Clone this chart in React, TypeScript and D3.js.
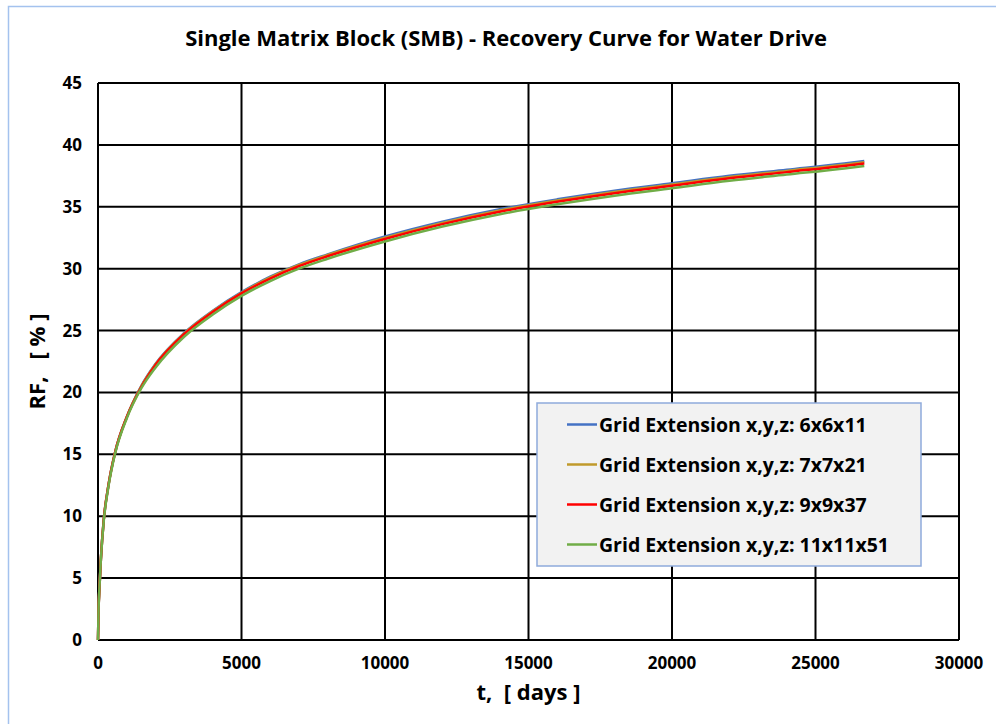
import React from "react";
import * as d3 from "d3";

const tDays = [0, 20, 50, 100, 200, 350, 600, 1000, 1500, 2000, 3000, 4000, 5000, 6000, 7000, 8000, 10000, 12000, 14000, 16000, 18000, 20000, 22000, 24000, 26000, 26700];
const rf6x6x11 = [0, 2.5, 4.2, 6.5, 9.7, 12.3, 15.2, 18.0, 20.5, 22.3, 24.8, 26.6, 28.1, 29.35, 30.35, 31.15, 32.6, 33.8, 34.8, 35.6, 36.3, 36.9, 37.5, 38.0, 38.5, 38.7];
const rf7x7x21 = [0, 2.5, 4.2, 6.5, 9.7, 12.3, 15.2, 18.0, 20.45, 22.25, 24.75, 26.55, 28.05, 29.3, 30.3, 31.1, 32.5, 33.7, 34.7, 35.5, 36.2, 36.8, 37.4, 37.9, 38.4, 38.6];
const rf9x9x37 = [0, 2.5, 4.2, 6.5, 9.7, 12.3, 15.2, 18.0, 20.4, 22.2, 24.7, 26.5, 28.0, 29.2, 30.2, 31.0, 32.4, 33.6, 34.6, 35.4, 36.1, 36.7, 37.3, 37.8, 38.3, 38.5];
const rf11x11x51 = [0, 2.5, 4.2, 6.5, 9.6, 12.2, 15.1, 17.9, 20.3, 22.0, 24.5, 26.3, 27.8, 29.0, 30.0, 30.8, 32.2, 33.4, 34.4, 35.2, 35.9, 36.5, 37.1, 37.6, 38.1, 38.3];

const seriesNames = [
  "Grid Extension x,y,z: 6x6x11",
  "Grid Extension x,y,z: 7x7x21",
  "Grid Extension x,y,z: 9x9x37",
  "Grid Extension x,y,z: 11x11x51",
];
const seriesValues = [rf6x6x11, rf7x7x21, rf9x9x37, rf11x11x51];
const seriesColors = ["#4472C4", "#C09A2B", "#FF0000", "#70AD47"];

const xTicks = [0, 5000, 10000, 15000, 20000, 25000, 30000];
const yTicks = [0, 5, 10, 15, 20, 25, 30, 35, 40, 45];

const title = "Single Matrix Block (SMB) - Recovery Curve for Water Drive";
const xTitle = "t,  [ days ]";
const yTitle = "RF,   [ % ]";

const FONT = "'Open Sans', sans-serif";

export default function App() {
  const W = 996, H = 724;
  const x0 = 98, x1 = 959, y0 = 640, y1 = 83;
  const x = d3.scaleLinear().domain([0, 30000]).range([x0, x1]);
  const y = d3.scaleLinear().domain([0, 45]).range([y0, y1]);
  const line = d3.line<number>().x((_, i) => x(tDays[i])).y((d) => y(d)).curve(d3.curveMonotoneX);

  const legX = 537, legY = 403, legW = 384, legH = 163;

  return (
    <svg width={W} height={H} style={{ position: "absolute", left: 0, top: 0, fontFamily: FONT }}>
      <rect x={0} y={0} width={W} height={H} fill="#fff" />
      <rect x={8.5} y={6.5} width={1100} height={800} fill="#fff" stroke="#a4c2ee" strokeWidth={1.5} />
      <text x={506} y={46} textAnchor="middle" fontSize={22} fontWeight={700} fill="#000">{title}</text>
      {yTicks.map((v) => (
        <line key={"gy" + v} x1={x0} x2={x1} y1={y(v)} y2={y(v)} stroke="#000" strokeWidth={2} />
      ))}
      {xTicks.map((v) => (
        <line key={"gx" + v} x1={x(v)} x2={x(v)} y1={y0} y2={y1} stroke="#000" strokeWidth={2} />
      ))}
      {yTicks.map((v) => (
        <text key={"ty" + v} x={82} y={y(v) + 6} textAnchor="end" fontSize={17} fontWeight={700} fill="#000">{v}</text>
      ))}
      {xTicks.map((v) => (
        <text key={"tx" + v} x={x(v)} y={669} textAnchor="middle" fontSize={17} fontWeight={700} fill="#000">{v}</text>
      ))}
      <text x={(x0 + x1) / 2} y={700} textAnchor="middle" fontSize={22} fontWeight={700} fill="#000" style={{ whiteSpace: "pre" }}>{xTitle}</text>
      <text transform={`translate(45, ${(y0 + y1) / 2}) rotate(-90)`} textAnchor="middle" fontSize={22} fontWeight={700} fill="#000" style={{ whiteSpace: "pre" }}>{yTitle}</text>
      {seriesValues.map((vals, i) => (
        <path key={"s" + i} d={line(vals) || ""} fill="none" stroke={seriesColors[i]} strokeWidth={2.5} />
      ))}
      <rect x={legX} y={legY} width={legW} height={legH} fill="#f2f2f2" stroke="#8eaadb" strokeWidth={1.5} />
      {seriesNames.map((n, i) => {
        const cy = 424.5 + i * 40;
        return (
          <g key={"l" + i}>
            <line x1={567} x2={597} y1={cy} y2={cy} stroke={seriesColors[i]} strokeWidth={2.5} />
            <text x={599} y={cy + 7} fontSize={19.5} fontWeight={700} fill="#000">{n}</text>
          </g>
        );
      })}
    </svg>
  );
}
